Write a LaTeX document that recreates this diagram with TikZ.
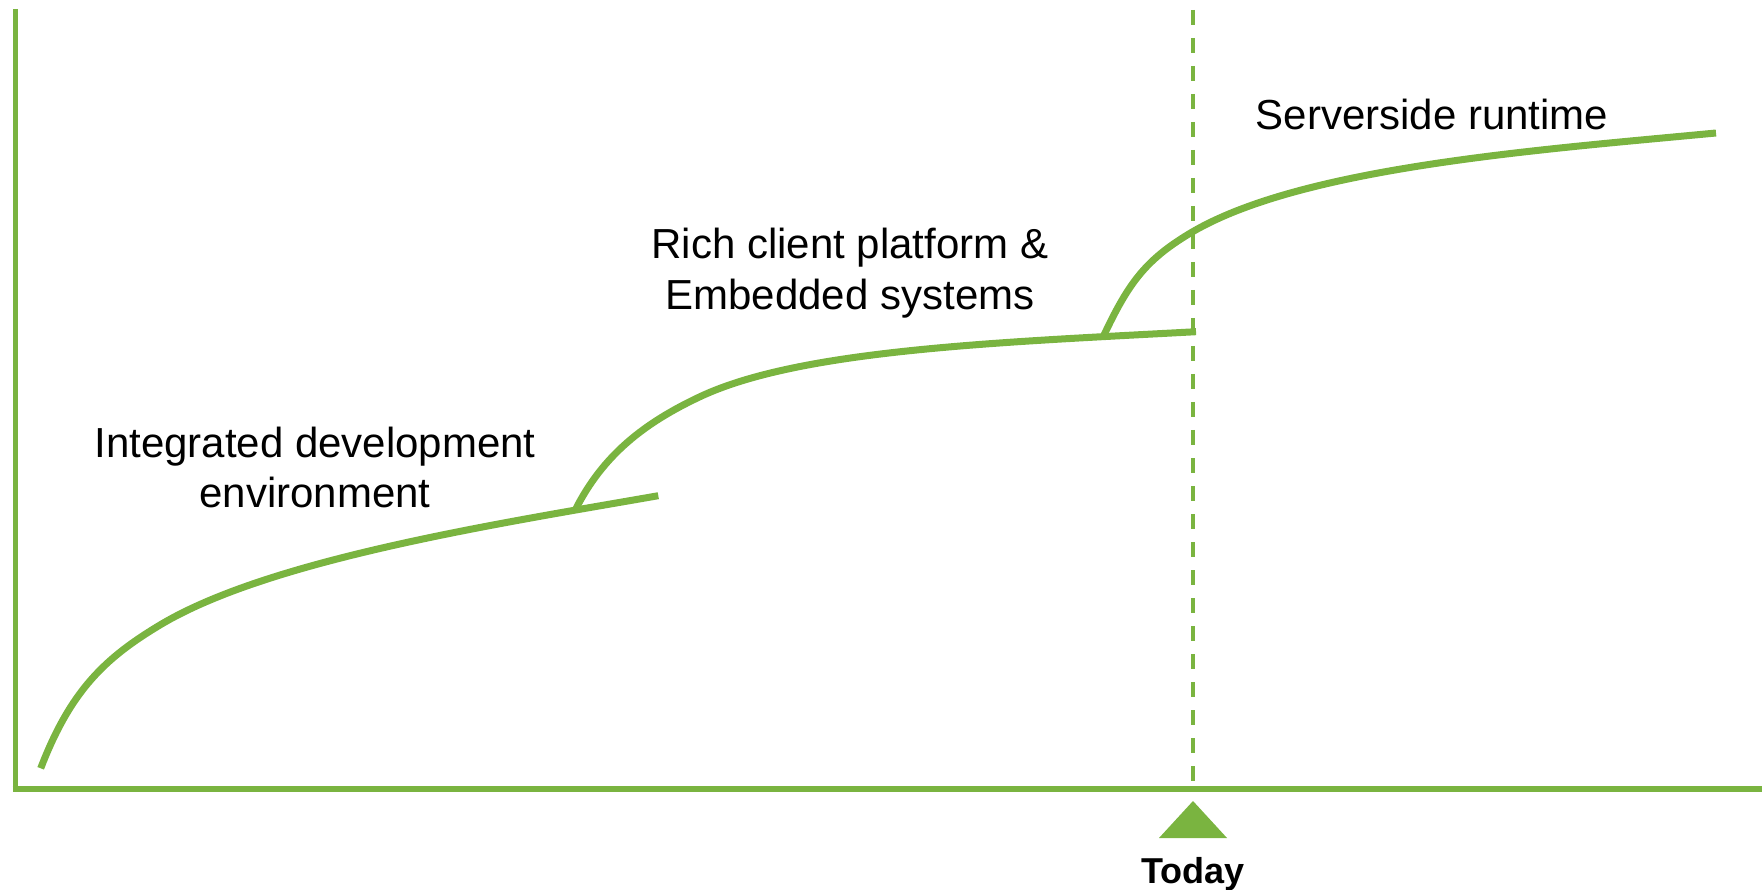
\documentclass[tikz,border=0pt]{standalone}
\usepackage{fontspec}
\setmainfont{Liberation Sans}
\definecolor{lgreen}{RGB}{122,180,64}
\begin{document}
\begin{tikzpicture}[x=1pt,y=-1pt,
  axisline/.style={draw=lgreen,line width=5.5pt},
  growth/.style={draw=lgreen,line width=7pt},
  todayline/.style={draw=lgreen,line width=3.5pt,dash pattern=on 15pt off 13pt},
  lbl/.style={font=\fontsize{42}{51}\selectfont,anchor=base,inner sep=0pt},
  todaylbl/.style={font=\fontsize{36}{43}\selectfont\bfseries,anchor=base,inner sep=0pt}]
\useasboundingbox (0,0) rectangle (1762,890);
% axes
\coordinate (ytop) at (15.5,9);
\coordinate (orig) at (15.5,789);
\coordinate (xend) at (1762,789);
\draw[axisline] (ytop) -- (15.5,791.7);
\draw[axisline] (12.5,789) -- (xend);
% today line
\coordinate (ttop) at (1193,10);
\coordinate (tbot) at (1193,785);
\draw[todayline] (ttop) -- (tbot);
\coordinate (tri) at (1193,801);
\fill[lgreen] (tri) -- (1159,838) -- (1227,838) -- cycle;
\node[todaylbl] (today) at (1193,883) {Today};
% curves
\coordinate (s1) at (40.7,768.3);
\coordinate (m1) at (160,625);
\coordinate (e1) at (658.3,495.7);
\coordinate (b1) at (575,510.5);
\coordinate (m2) at (700,396.7);
\coordinate (e2) at (1196,331.7);
\coordinate (b2) at (1103.3,336.5);
\coordinate (m3) at (1190,233.3);
\coordinate (e3) at (1716,133);
\draw[growth] (s1) .. controls (70.7,690.3) and (105,658) .. (m1)
  .. controls (270,559) and (498.3,523.7) .. (e1);
\draw[growth] (b1) .. controls (603,454.5) and (645,422.6) .. (m2)
  .. controls (800,349.7) and (996,342.5) .. (e2);
\draw[growth] (b2) .. controls (1128.3,283.5) and (1145,260.3) .. (m3)
  .. controls (1300,167.3) and (1536,150.1) .. (e3);
% labels
\node[lbl] (ide1) at (315,457) {Integrated development};
\node[lbl] (ide2) at (315,507) {environment};
\node[lbl] (rcp1) at (850,259) {Rich client platform \&};
\node[lbl] (rcp2) at (850,310) {Embedded systems};
\node[lbl] (srv) at (1432,130) {Serverside runtime};
\end{tikzpicture}
\end{document}
